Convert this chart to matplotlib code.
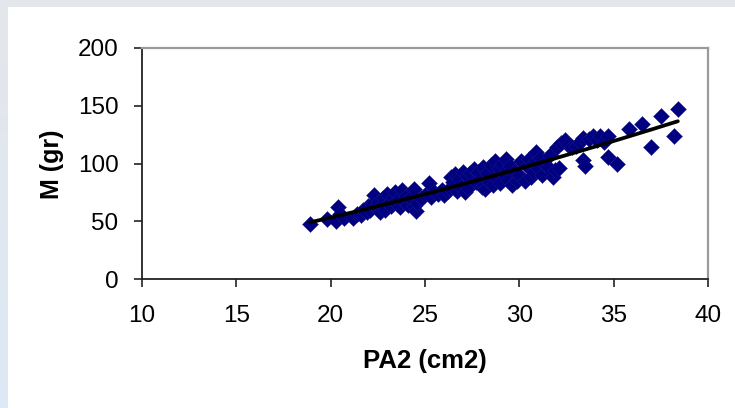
import numpy as np
import matplotlib
matplotlib.use("Agg")
import matplotlib.pyplot as plt
from matplotlib.patches import Rectangle

# Projected area (cm2) and mass (gr) of each specimen
pa2 = [18.9, 19.8, 20.3, 20.4, 20.5, 20.7,
       21.2, 21.4, 21.6, 21.7, 21.9, 22.0, 22.1, 22.2,
       22.3, 22.4, 22.5, 22.6, 22.7, 22.8, 22.9, 23.0, 23.1, 23.2,
       23.3, 23.4, 23.5, 23.6, 23.7, 23.8, 23.9, 24.0, 24.1, 24.2, 24.4, 24.4, 24.5,
       24.6, 24.8, 25.0, 25.2, 25.3, 25.5, 25.7, 25.9, 26.0,
       26.2, 26.3, 26.4, 26.5, 26.6, 26.7, 26.8, 26.9, 27.0, 27.1, 27.2, 27.3, 27.4,
       27.6, 27.7, 27.8, 28.0, 28.1, 28.2, 28.3, 28.4, 28.5, 28.6, 28.7, 28.8, 28.9,
       29.0, 29.1, 29.2, 29.3, 29.4, 29.5, 29.6, 29.7, 29.9, 30.0, 30.1, 30.3, 30.4,
       30.5, 30.6, 30.7, 30.8, 30.9, 31.0, 31.1, 31.2, 31.3, 31.5, 31.6, 31.8, 31.9,
       32.0, 32.1, 32.2, 32.4, 32.6, 32.8, 33.0, 33.2, 33.4, 33.4, 33.5, 33.7, 33.9,
       34.1, 34.3, 34.5, 34.7, 34.7,
       35.2, 35.8, 36.5, 37.0, 37.5, 38.2, 38.4]
mass = [48, 52, 50, 62, 56, 53,
        53, 56, 55, 60, 58, 63, 60, 65,
        73, 62, 67, 58, 64, 70, 60, 74, 66, 63,
        71, 75, 65, 69, 62, 77, 67, 72, 64, 70, 78, 63, 59,
        66, 70, 73, 83, 71, 75, 74, 77, 73,
        76, 79, 88, 84, 91, 76, 87, 80, 93, 75, 89, 79, 92,
        95, 84, 93, 80, 97, 78, 92, 84, 99, 81, 102, 87, 95,
        83, 100, 91, 104, 86, 98, 81, 93, 85, 90, 102, 85, 98,
        104, 88, 100, 93, 110, 96, 105, 90, 100, 97, 107, 88, 94,
        114, 96, 118, 120, 116, 114, 115, 119, 122, 103, 98, 121, 124,
        120, 124, 119, 124, 106,
        100, 130, 134, 114, 141, 124, 147]

x_ticks = [10, 15, 20, 25, 30, 35, 40]
y_ticks = [0, 50, 100, 150, 200]

x = np.asarray(pa2, dtype=float)
y = np.asarray(mass, dtype=float)

# Power trend line  M = a * PA2^b, fitted in log-log space
b, ln_a = np.polyfit(np.log(x), np.log(y), 1)
xt = np.linspace(x.min(), x.max(), 200)
yt = np.exp(ln_a) * xt ** b

W, H = 735, 408
fig = plt.figure(figsize=(W / 100, H / 100), dpi=100)

# Page backdrop with a white panel
bg = fig.add_axes([0, 0, 1, 1], zorder=-10)
grad = np.linspace(0, 1, 256)[:, None]
top_col = np.array([0.894, 0.902, 0.918])
bot_col = np.array([0.867, 0.914, 0.960])
img = top_col[None, None, :] * (1 - grad[..., None]) + bot_col[None, None, :] * grad[..., None]
bg.imshow(img, aspect="auto", extent=[0, 1, 0, 1], origin="upper")
bg.add_patch(Rectangle((8 / W, 0), 1, 1 - 7 / H, facecolor="white", edgecolor="none"))
bg.set_xlim(0, 1)
bg.set_ylim(0, 1)
bg.axis("off")

ax = fig.add_axes([142 / W, 1 - 279 / H, (708 - 142) / W, (279 - 48) / H])
ax.set_facecolor("white")

ax.scatter(x, y, marker="D", s=66, color="#000080", edgecolors="#1a1a8c",
           linewidths=0.3, zorder=3)
ax.plot(xt, yt, color="black", lw=2.7, zorder=4, solid_capstyle="round")

ax.set_xlim(10, 40)
ax.set_ylim(0, 200)
ax.set_xticks(x_ticks)
ax.set_yticks(y_ticks)

tick_font = {"family": "Liberation Sans", "size": 17.5}
ax.set_xticklabels([str(t) for t in x_ticks], fontdict=tick_font)
ax.set_yticklabels([str(t) for t in y_ticks], fontdict=tick_font)
ax.tick_params(axis="both", direction="out", length=6, width=1.2, color="#222222")
ax.tick_params(axis="x", pad=13)
ax.tick_params(axis="y", pad=11)

for side in ("left", "bottom"):
    ax.spines[side].set_color("#222222")
    ax.spines[side].set_linewidth(1.3)
for side in ("top", "right"):
    ax.spines[side].set_color("#9a9a9a")
    ax.spines[side].set_linewidth(1.6)

fig.text(425 / W, 1 - 361 / H, "PA2 (cm2)", ha="center", va="center",
         fontsize=18.5, fontweight="bold", family="Liberation Sans")
fig.text(52 / W, 1 - 164 / H, "M (gr)", ha="center", va="center", rotation=90,
         fontsize=18, fontweight="bold", family="Liberation Sans")

fig.savefig("out.png", dpi=100)
